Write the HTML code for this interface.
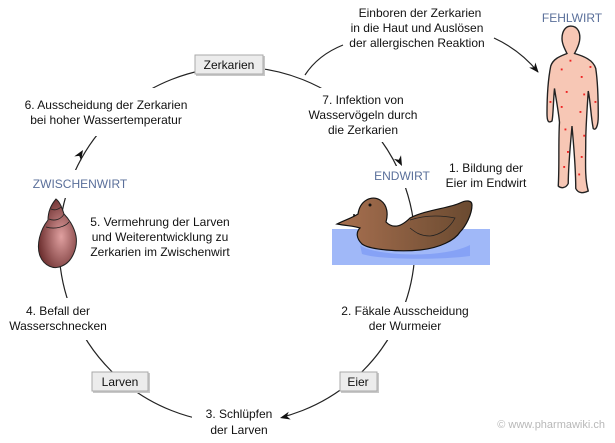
<!DOCTYPE html>
<html><head><meta charset="utf-8"><style>
html,body{margin:0;padding:0;background:#fff;}
svg{display:block;font-family:"Liberation Sans","DejaVu Sans",sans-serif;}
.t{font-size:12px;fill:#111;}
.b{font-size:12px;fill:#5a6f9a;}
</style></head><body>
<svg width="615" height="443" viewBox="0 0 615 443" xmlns="http://www.w3.org/2000/svg">
<defs>
<marker id="ah" markerWidth="10" markerHeight="8" refX="9" refY="4" orient="auto" markerUnits="userSpaceOnUse">
<path d="M0,0 L10,4 L0,8 L3,4 Z" fill="#111"/>
</marker>
<radialGradient id="sn" cx="0.6" cy="0.55" r="0.6"><stop offset="0" stop-color="#e0a0a0"/><stop offset="1" stop-color="#6e3030"/></radialGradient>
<linearGradient id="dk" x1="0" x2="1"><stop offset="0" stop-color="#a87050"/><stop offset="1" stop-color="#6a4a30"/></linearGradient>
</defs>
<!-- main circle -->
<circle cx="237" cy="245" r="178" fill="none" stroke="#222" stroke-width="1.2"/>
<!-- label gaps -->
<rect x="10" y="88" width="200" height="48" fill="#fff"/>
<rect x="14" y="170" width="140" height="28" fill="#fff"/>
<rect x="5" y="298" width="112" height="42" fill="#fff"/>
<rect x="300" y="88" width="120" height="54" fill="#fff"/>
<rect x="360" y="166" width="80" height="22" fill="#fff"/>
<rect x="320" y="302" width="130" height="38" fill="#fff"/>
<rect x="192" y="402" width="90" height="41" fill="#fff"/>
<!-- arrowheads on the circle -->
<g fill="#111">
<path d="M0,0 L-10,-4 L-7,0 L-10,4 Z" transform="translate(402,166) rotate(63)"/>
<path d="M0,0 L-10,-4 L-7,0 L-10,4 Z" transform="translate(83,150) rotate(-58)"/>
<path d="M0,0 L-10,-4 L-7,0 L-10,4 Z" transform="translate(280,418) rotate(166)"/>
</g>
<path d="M305,75 Q318,55 343,45" fill="none" stroke="#222" stroke-width="1.2"/>
<path d="M494,38 Q520,50 538,72" fill="none" stroke="#222" stroke-width="1.2" marker-end="url(#ah)"/>
<!-- boxes -->
<rect x="196" y="56" width="69" height="20" fill="#c8c8c8"/>
<rect x="195" y="55" width="68" height="19" fill="#ececec" stroke="#aaa"/>
<text class="t" x="229" y="69" text-anchor="middle">Zerkarien</text>
<rect x="93" y="373" width="57" height="20" fill="#c8c8c8"/>
<rect x="92" y="372" width="56" height="19" fill="#ececec" stroke="#aaa"/>
<text class="t" x="120" y="386" text-anchor="middle">Larven</text>
<rect x="341" y="373" width="38" height="20" fill="#c8c8c8"/>
<rect x="340" y="372" width="37" height="19" fill="#ececec" stroke="#aaa"/>
<text class="t" x="358" y="386" text-anchor="middle">Eier</text>
<!-- labels -->
<g class="t" text-anchor="middle">
<text x="420" y="17">Einboren der Zerkarien</text>
<text x="417" y="32">in die Haut und Auslösen</text>
<text x="417" y="47">der allergischen Reaktion</text>
<text x="106" y="109">6. Ausscheidung der Zerkarien</text>
<text x="106" y="124">bei hoher Wassertemperatur</text>
<text x="363" y="104">7. Infektion von</text>
<text x="363" y="119">Wasservögeln durch</text>
<text x="363" y="134">die Zerkarien</text>
<text x="486" y="172">1. Bildung der</text>
<text x="486" y="187">Eier im Endwirt</text>
<text x="160" y="226">5. Vermehrung der Larven</text>
<text x="160" y="241">und Weiterentwicklung zu</text>
<text x="160" y="256">Zerkarien im Zwischenwirt</text>
<text x="58" y="315">4. Befall der</text>
<text x="58" y="330">Wasserschnecken</text>
<text x="405" y="315">2. Fäkale Ausscheidung</text>
<text x="405" y="330">der Wurmeier</text>
<text x="239" y="418">3. Schlüpfen</text>
<text x="239" y="434">der Larven</text>
</g>
<text class="b" x="80" y="188" text-anchor="middle">ZWISCHENWIRT</text>
<text class="b" x="402" y="180" text-anchor="middle">ENDWIRT</text>
<text class="b" x="572" y="22" text-anchor="middle">FEHLWIRT</text>
<text x="605" y="428" text-anchor="end" font-size="11" fill="#b8b8b8">© www.pharmawiki.ch</text>
<!-- snail -->
<path d="M56,199 C50,206 48,214 48,220 C40,230 36,245 40,256 C44,266 54,270 62,266 C72,262 78,248 76,236 C74,226 68,218 64,214 C62,208 60,202 56,199 Z" fill="url(#sn)" stroke="#222"/>
<path d="M49,219 C56,222 62,218 64,214 M46,227 C56,230 66,226 69,222 M51,209 C55,211 59,209 61,207" fill="none" stroke="#222" stroke-width="0.8"/>
<!-- water and duck -->
<rect x="332" y="229" width="158" height="36" fill="#a0b8f8"/>
<path d="M360,245 C370,255 440,260 470,245 L470,256 C440,260 380,260 362,254 Z" fill="#86a2f6"/>
<path d="M337,224 C345,220 352,218 358,214 C360,200 372,195 380,200 C388,205 388,215 386,222 C392,228 400,228 410,218 C425,210 450,208 460,203 C466,200 472,200 472,205 C472,214 466,226 460,232 C455,240 440,248 420,250 C400,252 370,250 362,244 C356,238 356,232 360,228 C354,226 348,226 337,224 Z" fill="url(#dk)" stroke="#111" stroke-width="1.2"/>
<path d="M410,220 C425,215 440,215 455,218 C450,228 440,235 430,236 C420,236 415,232 410,228" fill="none" stroke="#222" stroke-width="0.8"/>
<circle cx="370" cy="205" r="1.5" fill="#111"/><circle cx="354" cy="215" r="1" fill="#111"/>
<!-- human -->
<g transform="translate(572,26) scale(1.25) translate(-571,-28)">
<g stroke="#222" stroke-width="1.1" fill="#f7c7b5">
<path d="M570,28 C576,28 578,34 577,40 C576,45 574,48 573,50 C580,52 588,55 590,62 C592,75 592,90 592,100 C592,108 590,112 588,110 C586,100 586,90 584,80 C583,95 582,110 582,120 C582,135 581,150 584,160 C580,162 576,162 574,158 C574,140 572,120 571,108 C570,120 568,140 568,154 C566,158 562,158 560,156 C561,140 560,120 561,105 C560,95 558,85 557,78 C556,88 556,100 555,104 C552,106 551,104 551,98 C551,85 552,70 554,60 C556,54 562,52 567,50 C565,46 563,42 563,38 C563,32 566,28 570,28 Z"/>
</g>
<g fill="#e22">
<rect x="569" y="55" width="1.5" height="1.5"/><rect x="562" y="62" width="1.5" height="1.5"/><rect x="578" y="68" width="1.5" height="1.5"/><rect x="585" y="60" width="1.5" height="1.5"/><rect x="566" y="80" width="1.5" height="1.5"/><rect x="580" y="82" width="1.5" height="1.5"/><rect x="562" y="92" width="1.5" height="1.5"/><rect x="577" y="96" width="1.5" height="1.5"/><rect x="565" y="110" width="1.5" height="1.5"/><rect x="580" y="115" width="1.5" height="1.5"/><rect x="567" y="128" width="1.5" height="1.5"/><rect x="578" y="132" width="1.5" height="1.5"/><rect x="564" y="140" width="1.5" height="1.5"/><rect x="576" y="146" width="1.5" height="1.5"/><rect x="553" y="88" width="1.5" height="1.5"/><rect x="589" y="88" width="1.5" height="1.5"/>
</g>
</g>
</svg>
</body></html>
